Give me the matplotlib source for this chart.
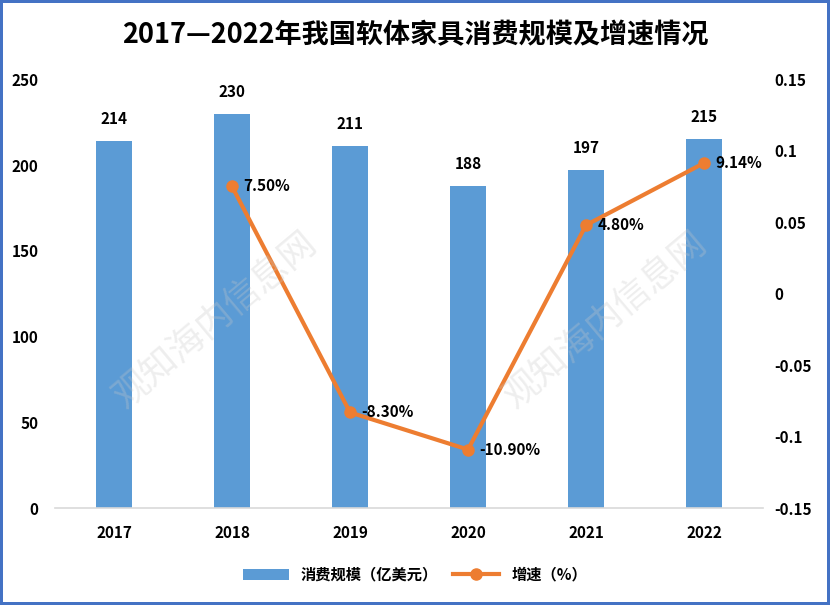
import matplotlib.pyplot as plt
import numpy as np

plt.rcParams['font.family'] = ['Noto Sans CJK SC', 'DejaVu Sans']
plt.rcParams['axes.unicode_minus'] = False

years = ["2017", "2018", "2019", "2020", "2021", "2022"]
scale = [214, 230, 211, 188, 197, 215]
growth_years = ["2018", "2019", "2020", "2021", "2022"]
growth = [0.075, -0.083, -0.109, 0.048, 0.0914]
growth_labels = ["7.50%", "-8.30%", "-10.90%", "4.80%", "9.14%"]

blue = "#5B9BD5"
orange = "#ED7D31"

fig = plt.figure(figsize=(8.3, 6.05), dpi=100)
fig.patch.set_edgecolor("#4472C4")
fig.patch.set_linewidth(3)
ax = fig.add_axes([0.0663, 0.160, 0.8530, 0.709])
x = np.arange(len(years))
bars = ax.bar(x, scale, width=0.31, color=blue, label="消费规模（亿美元）", zorder=2)
for xi, v in zip(x, scale):
    ax.annotate(str(v), (xi, v), xytext=(0, 10), textcoords="offset points",
                ha="center", va="bottom", fontsize=11, fontweight="bold")
ax.set_xlim(-0.5, len(years) - 0.5)
ax.set_ylim(0, 250)
ax.set_yticks(np.arange(0, 251, 50))
ax.set_xticks(x)
ax.set_xticklabels(years)
for s in ["top", "right", "left"]:
    ax.spines[s].set_visible(False)
ax.spines["bottom"].set_color("#D9D9D9")
ax.spines["bottom"].set_linewidth(1.2)
ax.tick_params(length=0, labelsize=11, pad=12)
ax.tick_params(axis="y", pad=12)
for t in ax.get_xticklabels() + ax.get_yticklabels():
    t.set_fontweight("bold")

ax2 = ax.twinx()
gx = [years.index(y) for y in growth_years]
line, = ax2.plot(gx, growth, color=orange, lw=3, marker="o", ms=8, label="增速（%）", zorder=3)
for xi, v, lab in zip(gx, growth, growth_labels):
    ax2.annotate(lab, (xi, v), xytext=(8, 0), textcoords="offset points",
                 ha="left", va="center", fontsize=11, fontweight="bold")
ax2.set_ylim(-0.15, 0.15)
ax2.set_yticks([-0.15, -0.1, -0.05, 0, 0.05, 0.1, 0.15])
ax2.set_yticklabels(["-0.15", "-0.1", "-0.05", "0", "0.05", "0.1", "0.15"])
for s in ["top", "right", "left", "bottom"]:
    ax2.spines[s].set_visible(False)
ax2.tick_params(length=0, labelsize=11, pad=8)
for t in ax2.get_yticklabels():
    t.set_fontweight("bold")

# watermark
for wx in [0.26, 0.73]:
    fig.text(wx, 0.47, "观知海内信息网", fontsize=26, color="#C8C8C8", alpha=0.3,
             rotation=40, ha="center", va="center", zorder=0)

fig.text(0.5, 0.942, "2017—2022年我国软体家具消费规模及增速情况", ha="center", va="center",
         fontsize=19.5, fontweight="bold")
fig.legend(handles=[bars, line], loc="center", bbox_to_anchor=(0.5, 0.05), ncol=2,
           frameon=False, prop={"weight": "bold", "size": 11}, handlelength=3, columnspacing=1)

fig.savefig("out.png", dpi=100, edgecolor=fig.get_edgecolor())
